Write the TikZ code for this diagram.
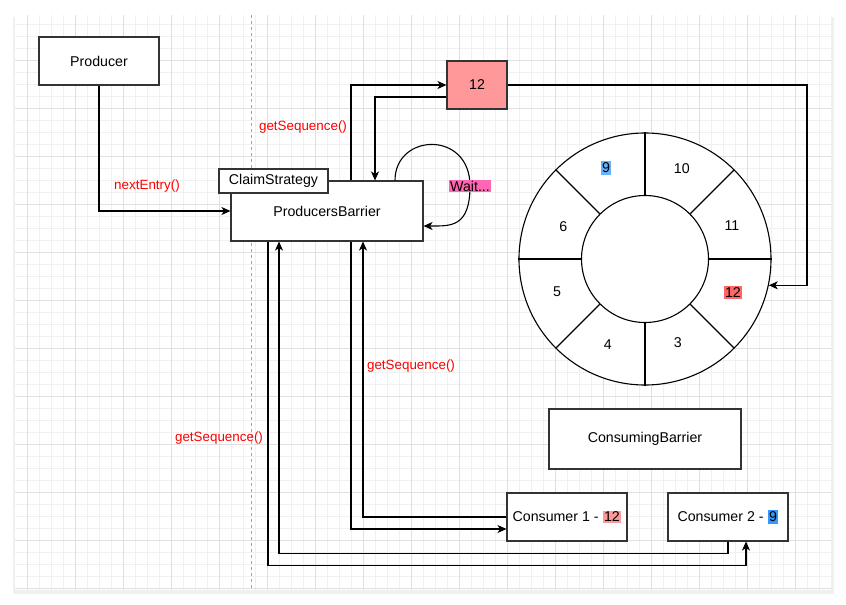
\documentclass[tikz,border=0pt]{standalone}
\usepackage{fontspec}
\setmainfont{Liberation Sans}
\usetikzlibrary{shapes,arrows,arrows.meta}

\definecolor{slotred}{HTML}{FF9999}
\definecolor{ringred}{HTML}{FF6666}
\definecolor{ringblue}{HTML}{66B2FF}
\definecolor{consblue}{HTML}{3399FF}
\definecolor{waitpink}{HTML}{FF66B3}
\definecolor{callred}{HTML}{FF0000}

\newcommand{\cellhl}[2]{{\setlength{\fboxsep}{1.5pt}\colorbox{#1}{#2}}}

\begin{document}
\begin{tikzpicture}[x=1pt, y=-1pt, font=\fontsize{14.2}{17}\selectfont]
        % Styles
        \tikzstyle{block} = [rectangle, draw=black!80, line width=1.1pt, fill=white, minimum width=120pt, minimum height=48pt, inner sep=0pt]
        \tikzstyle{line} = [draw, line width=1.1pt, -{Stealth[length=9pt, width=8pt, inset=2.5pt]}]
        \tikzstyle{call} = [text=callred, font=\fontsize{13.4}{16}\selectfont]
        \tikzstyle{ringline} = [draw, line width=1.1pt]

        % Page and grid
        \useasboundingbox (0,0) rectangle (846,605);
        \fill[black!6] (13,17) rectangle (834,594);
        \fill[white] (15,15) rectangle (831,590);
        \begin{scope}
            \clip (15,15) rectangle (831,590);
            \foreach \x in {27,39,...,831} \draw[black!6, line width=0.8pt] (\x,15) -- (\x,590);
            \foreach \y in {24,36,...,590} \draw[black!6, line width=0.8pt] (15,\y) -- (831,\y);
            \foreach \x in {27,75,...,831} \draw[black!12, line width=0.8pt] (\x,15) -- (\x,590);
            \foreach \y in {60,108,...,590} \draw[black!12, line width=0.8pt] (15,\y) -- (831,\y);
        \end{scope}
        \draw[black!35, dashed, line width=0.8pt] (251,15) -- (251,590);

        % Nodes
        \node [block] (producer) at (99,61) {Producer};
        \node [block, minimum width=192pt, minimum height=60pt] (barrier) at (327,211) {ProducersBarrier};
        \node [block, minimum width=109pt, minimum height=24pt] (claim) at (273.5,181) {ClaimStrategy};
        \node [block, fill=slotred, minimum width=60pt] (slot12) at (477,85) {12};
        \node [block, minimum width=192pt, minimum height=60pt] (consbar) at (645,439) {ConsumingBarrier};
        \node [block] (cons1) at (567,517) {Consumer 1 - \cellhl{slotred}{12}};
        \node [block] (cons2) at (728,517) {Consumer 2 - \cellhl{consblue}{9}};

        % Ring buffer
        \node [circle, ringline, fill=white, minimum size=252pt, inner sep=0pt] (ring) at (645,259) {};
        \node [circle, ringline, minimum size=127pt, inner sep=0pt] (hub) at (ring) {};
        \foreach \a in {0,45,...,315} \draw[ringline] (hub.\a) -- (ring.\a);
        \foreach \a/\r/\n in {20.8/93/11, 67.9/98/10, 113.2/99/\cellhl{ringblue}{9}, 158.1/88/6,
                              200.6/94/5, 246.5/93/4, 291.4/90/3, 339.4/94/\cellhl{ringred}{12}}
            \node (slot\a) at ([shift={(\a:\r pt)}]ring.center) {\n};
        \coordinate (turn) at (807,85);

        % Edges
        \path [line] (producer) |- (barrier);
        \path [line] ([xshift=24pt]barrier.north) |- (slot12);
        \path [line] ([yshift=-12pt]slot12.west) -| ([xshift=48pt]barrier.north);
        \path [line] (slot12) -- (turn) |- (ring.-12.8);
        \path [line] ([xshift=68pt]barrier.north) .. controls (395,133) and (470,130) .. (470,186)
                     .. controls (470,228) and (450,226) .. ([yshift=-15pt]barrier.east);
        \path [line] ([xshift=24pt]barrier.south) |- ([yshift=-12pt]cons1.west);
        \path [line] (cons1) -| ([xshift=36pt]barrier.south);
        \path [line] (cons2.south) -- ++(0,12) -| ([xshift=-48pt]barrier.south);
        \path [line] ([xshift=-59pt]barrier.south) -- ++(0,324) -| ([xshift=18pt]cons2.south);

        % Labels
        \node [call] (next_label) at (147,186) {nextEntry()};
        \node [call] (seq_top) at (303,127) {getSequence()};
        \node [call] (seq_mid) at (411,366) {getSequence()};
        \node [call] (seq_low) at (219,438) {getSequence()};
        \node [fill=waitpink, inner sep=1pt] (wait_label) at (470,186) {Wait...};
    \end{tikzpicture}
\end{document}
